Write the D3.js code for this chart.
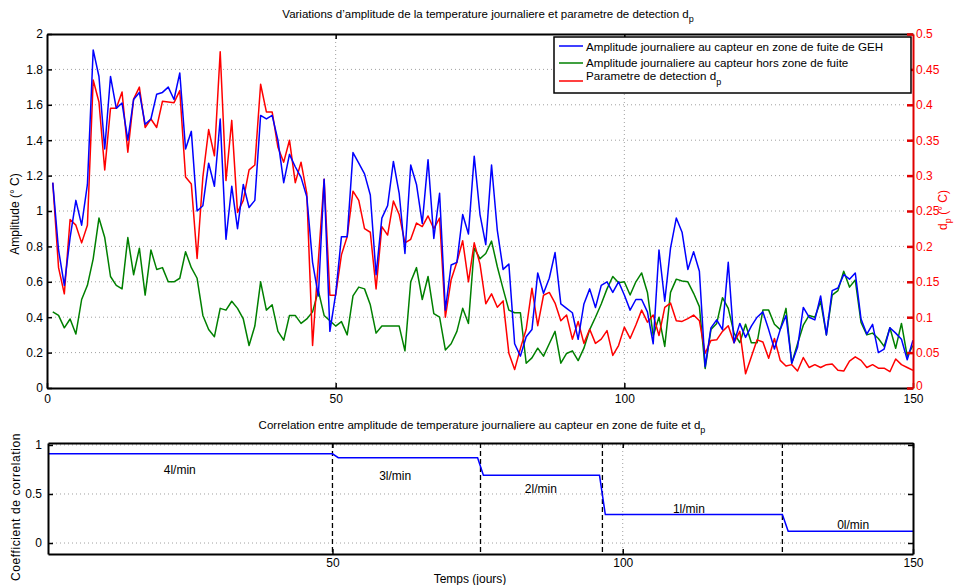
<!DOCTYPE html>
<html>
<head>
<meta charset="utf-8">
<script src="https://cdn.jsdelivr.net/npm/d3@7"></script>
<style>
  body { margin: 0; background: #fff; }
  svg { font-family: "Liberation Sans", Arial, Helvetica, sans-serif; }
</style>
</head>
<body>
<svg id="fig" width="956" height="585"></svg>
<script>
// ---- data -------------------------------------------------------------
const days = d3.range(1, 151);

// daily temperature amplitude at the sensor in the leak zone (°C)
const ampLeak = [
  1.16, 0.78, 0.58, 0.85, 1.06, 0.92, 1.15, 1.91, 1.76, 1.35,
  1.76, 1.58, 1.61, 1.40, 1.63, 1.67, 1.49, 1.52, 1.66, 1.67,
  1.70, 1.63, 1.78, 1.35, 1.45, 1.00, 1.03, 1.27, 1.14, 1.52,
  0.84, 1.14, 0.90, 1.15, 1.02, 1.06, 1.54, 1.52, 1.54, 1.40,
  1.16, 1.32, 1.25, 1.19, 1.08, 0.71, 0.52, 1.18, 0.32, 0.53,
  0.855, 0.855, 1.33, 1.27, 1.21, 1.09, 0.64, 0.96, 1.03, 1.28,
  1.10, 0.76, 1.26, 1.15, 0.93, 1.29, 0.845, 1.10, 0.44, 0.695,
  0.71, 0.98, 0.87, 1.31, 0.98, 0.81, 1.26, 0.89, 0.67, 0.70,
  0.25, 0.18, 0.29, 0.33, 0.65, 0.535, 0.62, 0.765, 0.475, 0.45,
  0.425, 0.275, 0.475, 0.56, 0.455, 0.58, 0.60, 0.54, 0.60, 0.525,
  0.44, 0.50, 0.50, 0.43, 0.25, 0.78, 0.49, 0.79, 0.96, 0.88,
  0.67, 0.77, 0.66, 0.12, 0.34, 0.385, 0.33, 0.71, 0.256, 0.365,
  0.286, 0.35, 0.40, 0.43, 0.33, 0.22, 0.33, 0.41, 0.14, 0.23,
  0.455, 0.40, 0.385, 0.52, 0.30, 0.55, 0.565, 0.64, 0.615, 0.65,
  0.39, 0.305, 0.36, 0.20, 0.22, 0.34, 0.31, 0.275, 0.16, 0.27
];

// daily temperature amplitude at the sensor outside the leak zone (°C)
const ampRef = [
  0.43, 0.41, 0.34, 0.39, 0.305, 0.50, 0.58, 0.73, 0.96, 0.85,
  0.63, 0.58, 0.56, 0.85, 0.64, 0.79, 0.525, 0.78, 0.67, 0.68,
  0.60, 0.60, 0.62, 0.77, 0.68, 0.62, 0.41, 0.33, 0.29, 0.45,
  0.44, 0.49, 0.45, 0.39, 0.24, 0.35, 0.60, 0.44, 0.47, 0.32,
  0.27, 0.41, 0.41, 0.365, 0.39, 0.43, 0.55, 0.41, 0.38, 0.35,
  0.375, 0.30, 0.52, 0.57, 0.56, 0.47, 0.31, 0.35, 0.35, 0.35,
  0.35, 0.21, 0.60, 0.68, 0.50, 0.63, 0.42, 0.40, 0.215, 0.25,
  0.32, 0.45, 0.365, 0.79, 0.73, 0.76, 0.83, 0.685, 0.56, 0.44,
  0.425, 0.425, 0.14, 0.17, 0.225, 0.18, 0.25, 0.32, 0.14, 0.195,
  0.21, 0.155, 0.225, 0.33, 0.40, 0.475, 0.56, 0.63, 0.595, 0.60,
  0.525, 0.60, 0.65, 0.54, 0.295, 0.40, 0.235, 0.54, 0.615, 0.605,
  0.60, 0.535, 0.46, 0.11, 0.33, 0.365, 0.51, 0.45, 0.31, 0.256,
  0.36, 0.256, 0.256, 0.44, 0.44, 0.36, 0.33, 0.45, 0.14, 0.25,
  0.355, 0.41, 0.40, 0.49, 0.30, 0.525, 0.55, 0.66, 0.57, 0.61,
  0.37, 0.30, 0.31, 0.28, 0.235, 0.34, 0.224, 0.365, 0.18, 0.24
];

// detection parameter d_p (°C), right axis
const dp = [
  0.29, 0.17, 0.133, 0.238, 0.23, 0.205, 0.23, 0.435, 0.404, 0.308,
  0.395, 0.395, 0.418, 0.333, 0.408, 0.425, 0.368, 0.38, 0.368, 0.405,
  0.404, 0.403, 0.42, 0.298, 0.288, 0.183, 0.298, 0.365, 0.328, 0.475,
  0.293, 0.378, 0.248, 0.265, 0.308, 0.315, 0.429, 0.39, 0.39, 0.34,
  0.319, 0.35, 0.29, 0.319, 0.275, 0.06, 0.18, 0.295, 0.131, 0.131,
  0.188, 0.214, 0.278, 0.265, 0.225, 0.22, 0.14, 0.228, 0.216, 0.264,
  0.245, 0.205, 0.21, 0.233, 0.228, 0.243, 0.225, 0.24, 0.10, 0.153,
  0.178, 0.208, 0.15, 0.205, 0.175, 0.119, 0.133, 0.114, 0.123, 0.049,
  0.026, 0.056, 0.083, 0.141, 0.088, 0.131, 0.135, 0.12, 0.095, 0.103,
  0.069, 0.094, 0.063, 0.083, 0.063, 0.069, 0.081, 0.046, 0.06, 0.086,
  0.07, 0.089, 0.11, 0.093, 0.103, 0.074, 0.114, 0.12, 0.095, 0.094,
  0.098, 0.103, 0.095, 0.049, 0.067, 0.068, 0.08, 0.088, 0.064, 0.08,
  0.02, 0.044, 0.068, 0.065, 0.042, 0.07, 0.039, 0.031, 0.033, 0.024,
  0.043, 0.029, 0.033, 0.029, 0.033, 0.034, 0.025, 0.024, 0.038, 0.044,
  0.039, 0.029, 0.033, 0.028, 0.028, 0.023, 0.041, 0.033, 0.029, 0.025
];

const ampTicks = [0, 0.2, 0.4, 0.6, 0.8, 1, 1.2, 1.4, 1.6, 1.8, 2];
const dpTicks = [0, 0.05, 0.1, 0.15, 0.2, 0.25, 0.3, 0.35, 0.4, 0.45, 0.5];
const dayTicks = [0, 50, 100, 150];

// correlation coefficient per leak-rate regime
const corrDays = [1, 50, 51, 75, 76, 96, 97, 127.5, 128.5, 150];
const corrValues = [0.91, 0.91, 0.87, 0.87, 0.69, 0.69, 0.29, 0.29, 0.12, 0.12];
const regimeBounds = [50, 75.5, 96.5, 127.5];
const flowLabels = ["4l/min", "3l/min", "2l/min", "1l/min", "0l/min"];
const flowLabelDays = [23.7, 60.8, 85.9, 111.4, 139.7];
const flowLabelValues = [0.745, 0.684, 0.551, 0.347, 0.184];
const corrTicks = [0, 0.5, 1];
const corrDayTicks = [50, 100, 150];

const seriesNames = [
  "Amplitude journaliere au capteur en zone de fuite de GEH",
  "Amplitude journaliere au capteur hors zone de fuite",
  "Parametre de detection d"
];
const seriesColors = ["#0000ff", "#008000", "#ff0000"];

// ---- drawing ----------------------------------------------------------
const svg = d3.select("#fig");
const FS = 12;
const gridStyle = sel => sel.attr("stroke", "#a0a0a0").attr("stroke-width", 1)
  .attr("stroke-dasharray", "1,3");

// upper panel
const P = { l: 47, r: 913, t: 34, b: 388 };
const x = d3.scaleLinear([0, 150], [P.l, P.r]);
const yL = d3.scaleLinear([0, 2], [P.b, P.t]);
const yR = d3.scaleLinear([0, 0.5], [P.b, P.t]);

svg.append("defs").append("clipPath").attr("id", "clipTop")
  .append("rect").attr("x", P.l).attr("y", P.t).attr("width", P.r - P.l).attr("height", P.b - P.t);

const upper = svg.append("g");
upper.selectAll(".hg").data(ampTicks.filter(v => v > 0 && v < 2)).join("line")
  .attr("x1", P.l).attr("x2", P.r).attr("y1", d => yL(d)).attr("y2", d => yL(d)).call(gridStyle);
upper.selectAll(".vg").data([50, 100]).join("line")
  .attr("y1", P.t).attr("y2", P.b).attr("x1", d => x(d)).attr("x2", d => x(d)).call(gridStyle);

const lineL = d3.line().x((d, i) => x(days[i])).y(d => yL(d));
const lineR = d3.line().x((d, i) => x(days[i])).y(d => yR(d));
const plotG = upper.append("g").attr("clip-path", "url(#clipTop)");
plotG.append("path").datum(ampRef).attr("d", lineL).attr("fill", "none")
  .attr("stroke", seriesColors[1]).attr("stroke-width", 1.5).attr("stroke-linejoin", "round");
plotG.append("path").datum(dp).attr("d", lineR).attr("fill", "none")
  .attr("stroke", seriesColors[2]).attr("stroke-width", 1.5).attr("stroke-linejoin", "round");
plotG.append("path").datum(ampLeak).attr("d", lineL).attr("fill", "none")
  .attr("stroke", seriesColors[0]).attr("stroke-width", 1.5).attr("stroke-linejoin", "round");

function styleAxis(g, color, width) {
  g.attr("font-family", null).attr("font-size", FS);
  g.select(".domain").attr("stroke", color).attr("stroke-width", width);
  g.selectAll(".tick line").attr("stroke", color).attr("stroke-width", 1.5);
  g.selectAll(".tick text").attr("fill", color);
}

upper.append("g").attr("transform", `translate(0,${P.t})`)
  .call(d3.axisTop(x).tickValues([50, 100]).tickSize(-5).tickSizeOuter(0).tickFormat(""))
  .call(g => styleAxis(g, "#000", 2));
upper.append("g").attr("transform", `translate(0,${P.b})`)
  .call(d3.axisBottom(x).tickValues(dayTicks).tickSize(-5).tickSizeOuter(0).tickPadding(6).tickFormat(d3.format("~g")))
  .call(g => styleAxis(g, "#000", 2));
upper.append("g").attr("transform", `translate(${P.l},0)`)
  .call(d3.axisLeft(yL).tickValues(ampTicks).tickSize(-5).tickSizeOuter(0).tickPadding(4).tickFormat(d3.format("~g")))
  .call(g => styleAxis(g, "#000", 2));
upper.append("g").attr("transform", `translate(${P.r},0)`)
  .call(d3.axisRight(yR).tickValues(dpTicks).tickSize(-6).tickSizeOuter(0).tickPadding(3).tickFormat(d3.format("~g")))
  .call(g => styleAxis(g, "#e00000", 2))
  .call(g => g.selectAll(".tick text").attr("fill", "#ff0000"))
  .call(g => g.selectAll(".tick line").attr("stroke-width", 2.5))
  .call(g => g.selectAll(".tick text").filter(d => d === 0).attr("dy", "0.1em"));

// titles and axis labels of the upper panel
const t1 = svg.append("text").attr("x", 488).attr("y", 18).attr("text-anchor", "middle")
  .attr("font-size", 11.5).attr("fill", "#000");
t1.append("tspan").text("Variations d’amplitude de la temperature journaliere et parametre de detection d");
t1.append("tspan").attr("font-size", 9).attr("dy", 4).text("p");

svg.append("text").attr("transform", `translate(19,${(P.t + P.b) / 2 + 3}) rotate(-90)`)
  .attr("text-anchor", "middle").attr("font-size", FS).text("Amplitude (° C)");

const rl = svg.append("text").attr("transform", `translate(947,210) rotate(-90)`)
  .attr("text-anchor", "middle").attr("font-size", FS).attr("fill", "#ff0000");
rl.append("tspan").text("d");
rl.append("tspan").attr("font-size", 9).attr("dy", 4).text("p");
rl.append("tspan").attr("dy", -4).text(" (° C)");

// legend
const lg = svg.append("g");
lg.append("rect").attr("x", 554).attr("y", 37).attr("width", 357).attr("height", 56)
  .attr("fill", "#fff").attr("stroke", "#000").attr("stroke-width", 1.5);
const legY = [46, 63, 81];
const legTextY = [51, 67, 80];
seriesNames.forEach((name, i) => {
  lg.append("line").attr("x1", 559).attr("x2", 583).attr("y1", legY[i]).attr("y2", legY[i])
    .attr("stroke", seriesColors[i]).attr("stroke-width", 1.5);
  const t = lg.append("text").attr("x", 586).attr("y", legTextY[i]).attr("font-size", 11.6).text(name);
  if (i === 2) t.append("tspan").attr("font-size", 9).attr("dy", 5).text("p");
});

// lower panel
const Q = { l: 48, r: 913, t: 443, b: 554 };
const x2 = d3.scaleLinear([1, 150], [Q.l, Q.r]);
const y2 = d3.scaleLinear([-0.112, 1.02], [Q.b, Q.t]);

const lower = svg.append("g");
lower.selectAll(".hg").data(corrTicks).join("line")
  .attr("x1", Q.l).attr("x2", Q.r).attr("y1", d => y2(d)).attr("y2", d => y2(d)).call(gridStyle);
lower.selectAll(".vg").data(corrDayTicks.filter(d => d < 150)).join("line")
  .attr("y1", Q.t).attr("y2", Q.b).attr("x1", d => x2(d)).attr("x2", d => x2(d)).call(gridStyle);

lower.selectAll(".rb").data(regimeBounds).join("line")
  .attr("y1", Q.t).attr("y2", Q.b).attr("x1", d => x2(d)).attr("x2", d => x2(d))
  .attr("stroke", "#000").attr("stroke-width", 1.3).attr("stroke-dasharray", "5,3");

lower.append("path").datum(corrValues)
  .attr("d", d3.line().x((d, i) => x2(corrDays[i])).y(d => y2(d)))
  .attr("fill", "none").attr("stroke", "#0000ff").attr("stroke-width", 1.5);

lower.selectAll(".fl").data(flowLabels).join("text")
  .attr("x", (d, i) => x2(flowLabelDays[i])).attr("y", (d, i) => y2(flowLabelValues[i]) + 4)
  .attr("text-anchor", "middle").attr("font-size", FS).text(d => d);

lower.append("g").attr("transform", `translate(0,${Q.t})`)
  .call(d3.axisTop(x2).tickValues(corrDayTicks).tickSize(-5).tickSizeOuter(0).tickFormat(""))
  .call(g => styleAxis(g, "#000", 2));
lower.append("g").attr("transform", `translate(0,${Q.b})`)
  .call(d3.axisBottom(x2).tickValues(corrDayTicks).tickSize(-5).tickSizeOuter(0).tickPadding(4).tickFormat(d3.format("~g")))
  .call(g => styleAxis(g, "#000", 2));
lower.append("g").attr("transform", `translate(${Q.l},0)`)
  .call(d3.axisLeft(y2).tickValues(corrTicks).tickSize(-5).tickSizeOuter(0).tickPadding(6).tickFormat(d3.format("~g")))
  .call(g => styleAxis(g, "#000", 2));
lower.append("g").attr("transform", `translate(${Q.r},0)`)
  .call(d3.axisRight(y2).tickValues(corrTicks).tickSize(-5).tickSizeOuter(0).tickFormat(""))
  .call(g => styleAxis(g, "#000", 2));

const t2 = svg.append("text").attr("x", 482).attr("y", 429).attr("text-anchor", "middle")
  .attr("font-size", 11.5);
t2.append("tspan").text("Correlation entre amplitude de temperature journaliere au capteur en zone de fuite et d");
t2.append("tspan").attr("font-size", 9).attr("dy", 4).text("p");

svg.append("text").attr("x", 470).attr("y", 583).attr("text-anchor", "middle")
  .attr("font-size", FS).text("Temps (jours)");
svg.append("text").attr("transform", `translate(20,507) rotate(-90)`)
  .attr("text-anchor", "middle").attr("font-size", FS).attr("letter-spacing", 0.6)
  .text("Coefficient de correlation");
</script>
</body>
</html>
